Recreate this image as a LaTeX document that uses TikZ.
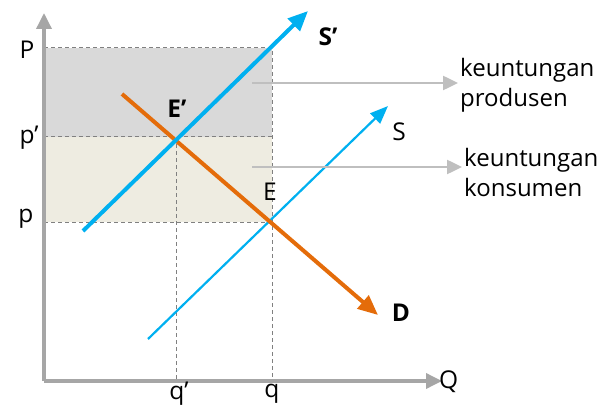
\documentclass[tikz,border=0pt]{standalone}
\usepackage{fontspec}
\setmainfont{Open Sans}
\usepackage{tikz}
\usetikzlibrary{positioning, arrows.meta}
\definecolor{supBlue}{HTML}{00B0F0}
\definecolor{demOrange}{HTML}{E46C0A}
\definecolor{axisGray}{HTML}{A6A6A6}
\definecolor{noteGray}{HTML}{BFBFBF}
\definecolor{guideGray}{HTML}{808080}
\definecolor{prodFill}{HTML}{D9D9D9}
\definecolor{konsFill}{HTML}{EEECE1}

\begin{document}
\begin{tikzpicture}[
      x=1pt, y=-1pt,
      every node/.style={text=black, inner sep=2pt},
      axis/.style={axisGray, line width=3.5pt, -{Triangle[length=16pt, width=15pt]}},
      guide/.style={guideGray, line width=1pt, dash pattern=on 4pt off 3pt},
      supnew/.style={supBlue, line width=4pt, -{Triangle[length=20pt, width=17pt]}},
      supold/.style={supBlue, line width=2.2pt, -{Triangle[length=18pt, width=14pt]}},
      demand/.style={demOrange, line width=4pt, -{Triangle[length=20pt, width=17pt]}},
      note/.style={noteGray, line width=2.5pt, -{Triangle[length=15pt, width=14pt]}},
      notetext/.style={align=left, anchor=west, font=\fontsize{24}{30}\selectfont},
      lbl/.style={font=\fontsize{24.5}{27}\selectfont},
      blbl/.style={font=\fontsize{24.5}{27}\selectfont\bfseries},
    ]
      \useasboundingbox (0,0) rectangle (613,409);

      % surplus areas
      \fill[prodFill] (44,48) rectangle (272,137);
      \fill[konsFill] (44,137) rectangle (272,222);

      % key points
      \coordinate (o) at (44,381);
      \coordinate (ytop) at (44,13);
      \coordinate (xend) at (442,381);
      \coordinate (eNew) at (176,137);
      \coordinate (eOld) at (272,222);
      \coordinate (pTop) at (272,48);

      % guides
      \draw[guide] (44,48) -- (pTop) -- (eOld |- o);
      \draw[guide] (44,137) -- (272,137);
      \draw[guide] (44,222) -- (eOld);
      \draw[guide] (eNew) -- (eNew |- o);

      % axes
      \draw[axis] (o) -- (ytop);
      \draw[axis] (o) -- (xend);
      \node[lbl, anchor=west] (qAx) at (437,382) {Q};
      \node[lbl] (pAx) at (27,50) {P};
      \node[lbl] (pNew) at (29,138) {p’};
      \node[lbl] (pOld) at (26,219) {p};
      \node[lbl] (qNew) at (179,394) {q’};
      \node[lbl] (qOld) at (272,394) {q};

      % curves
      \coordinate (snA) at (83,231);
      \coordinate (snB) at (308,11);
      \coordinate (soA) at (148,339);
      \coordinate (soB) at (388,106);
      \coordinate (dA) at (122,94);
      \coordinate (dB) at (378,315);
      \draw[supold] (soA) -- (soB);
      \draw[demand] (dA) -- (dB);
      \draw[supnew] (snA) -- (snB);

      \node[blbl] (sNewLbl) at (328,37) {S’};
      \node[lbl] (sOldLbl) at (399,132) {S};
      \node[blbl] (dLbl) at (401,313) {D};
      \node[blbl] (eNewLbl) at (177,109) {E’};
      \node[lbl] (eOldLbl) at (270,192) {E};

      % notes
      \node[notetext] (prod) at (458,85) {keuntungan\\produsen};
      \node[notetext] (kons) at (462,172) {keuntungan\\konsumen};
      \coordinate (prodFrom) at (252,83);
      \coordinate (konsFrom) at (252,167);
      \draw[note] (prodFrom) -- (prodFrom -| prod.west);
      \draw[note] (konsFrom) -- (konsFrom -| kons.west);

\end{tikzpicture}
\end{document}
